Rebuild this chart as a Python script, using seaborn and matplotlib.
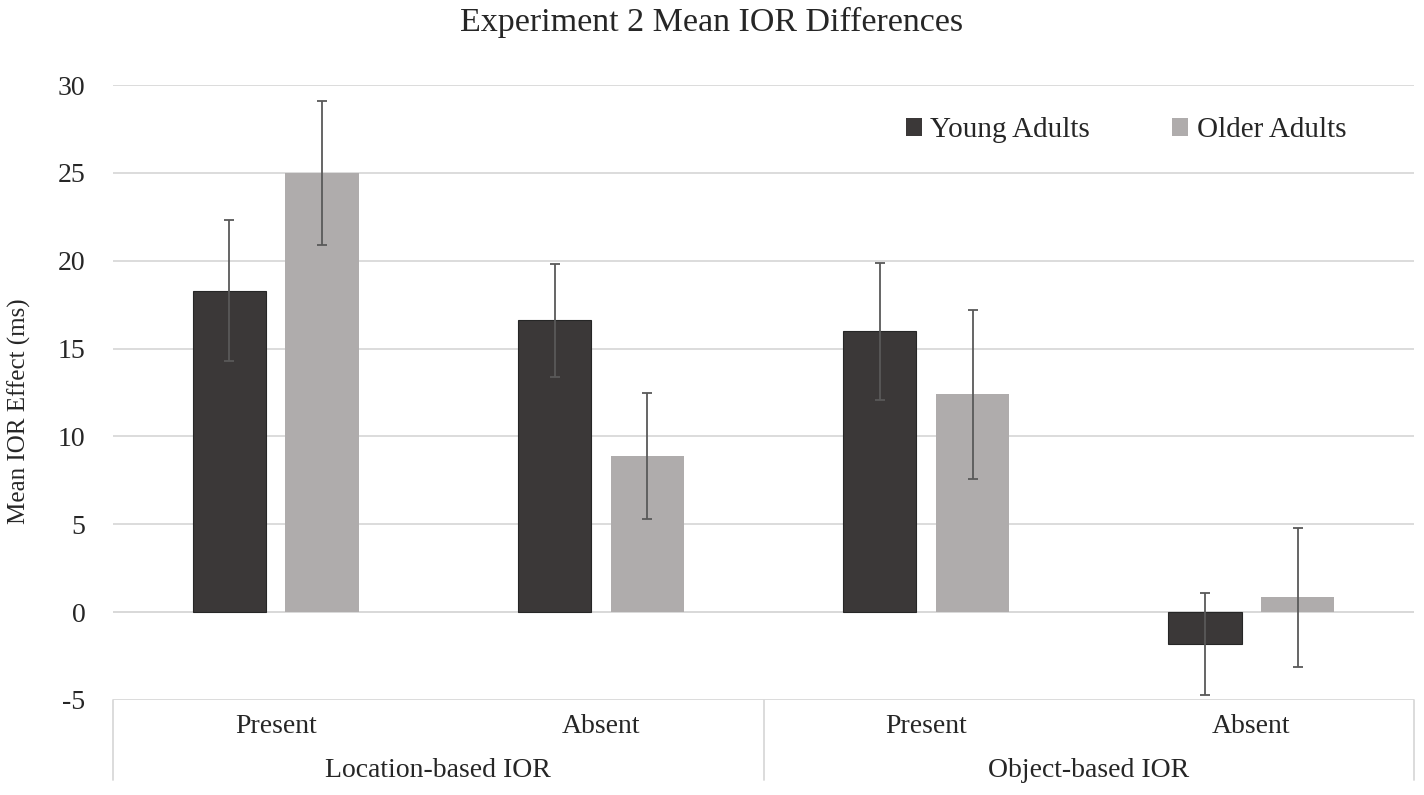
import numpy as np
import pandas as pd
import seaborn as sns
import matplotlib.pyplot as plt
from matplotlib.transforms import blended_transform_factory

# values
conditions = ["Present", "Absent", "Present ", "Absent "]
groups = ["Location-based IOR", "Object-based IOR"]
young_mean = [18.3, 16.6, 16.0, -1.8]
young_err = [4.0, 3.2, 3.9, 2.9]
older_mean = [25.0, 8.9, 12.4, 0.85]
older_err = [4.1, 3.6, 4.8, 3.95]
series = ["Young Adults", "Older Adults"]
colors = ["#3c3837", "#afabab"]

def build_frame():
    rows = []
    for i, c in enumerate(conditions):
        rows.append({"Condition": c, "Group": series[0], "Mean": young_mean[i], "Err": young_err[i]})
        rows.append({"Condition": c, "Group": series[1], "Mean": older_mean[i], "Err": older_err[i]})
    return pd.DataFrame(rows)

def plot_chart(df, output_file="out.png"):
    sns.set_style("white")
    plt.rcParams["font.family"] = ["Liberation Serif", "DejaVu Serif"]
    plt.rcParams["axes.unicode_minus"] = False

    fig = plt.figure(figsize=(14.24, 7.95), dpi=100)
    ax = fig.add_axes([0.0794, 0.1195, 0.9136, 0.7735])

    sns.barplot(data=df, x="Condition", y="Mean", hue="Group", order=conditions,
                hue_order=series, palette=colors, width=0.57, gap=0.21,
                errorbar=None, edgecolor=None, linewidth=0, ax=ax, zorder=3)

    # thin dark outline on the young bars only
    for bar in ax.containers[0]:
        bar.set_edgecolor("#262626")
        bar.set_linewidth(0.8)

    # error bars placed at the bar centres
    for cont, errs in zip(ax.containers, [young_err, older_err]):
        xs = [p.get_x() + p.get_width() / 2 for p in cont]
        ys = [p.get_height() + p.get_y() for p in cont]
        ax.errorbar(xs, ys, yerr=errs, fmt="none", ecolor="#595959",
                    elinewidth=1.3, capsize=3.5, capthick=1.3, zorder=4)

    ax.set_ylim(-5, 30)
    ax.set_xlim(-0.5, 3.5)
    ax.set_yticks(np.arange(-5, 31, 5))
    ax.yaxis.grid(True, color="#d9d9d9", linewidth=1.3, zorder=0)
    ax.xaxis.grid(False)
    for s in ax.spines.values():
        s.set_visible(False)
    ax.axhline(0, color="#d9d9d9", linewidth=1.3, zorder=1)

    ax.tick_params(axis="y", length=0, pad=20, labelsize=20)
    ax.tick_params(axis="x", length=0, pad=10, labelsize=20)
    ax.set_xticks(range(4))
    ax.set_xticklabels([c.strip() for c in conditions], color="#262626")
    for lab in ax.get_yticklabels():
        lab.set_color("#262626")
    ax.set_xlabel("")
    ax.set_ylabel("Mean IOR Effect (ms)", fontsize=18, color="#262626")
    ax.yaxis.set_label_coords(-0.063, 0.47)

    # category table below the axis
    trans = blended_transform_factory(ax.transData, ax.transAxes)
    for xv in [-0.5, 1.5, 3.5]:
        ax.plot([xv, xv], [0, -0.13], transform=trans, color="#d9d9d9",
                linewidth=1.3, clip_on=False)
    for gx, g in zip([0.5, 2.5], groups):
        ax.text(gx, -0.115, g, transform=trans, ha="center", va="center",
                fontsize=20, color="#262626")

    fig.text(0.5, 0.972, "Experiment 2 Mean IOR Differences", ha="center", va="center",
             fontsize=24.5, color="#262626")

    ax.legend(loc="upper right", bbox_to_anchor=(0.968, 0.99), ncol=2, frameon=False,
              fontsize=21, handlelength=0.55, handleheight=0.55, handletextpad=0.3,
              columnspacing=2.8, labelcolor="#262626")

    fig.savefig(output_file, dpi=100)

def main():
    df = build_frame()
    plot_chart(df)

if __name__ == "__main__":
    main()
